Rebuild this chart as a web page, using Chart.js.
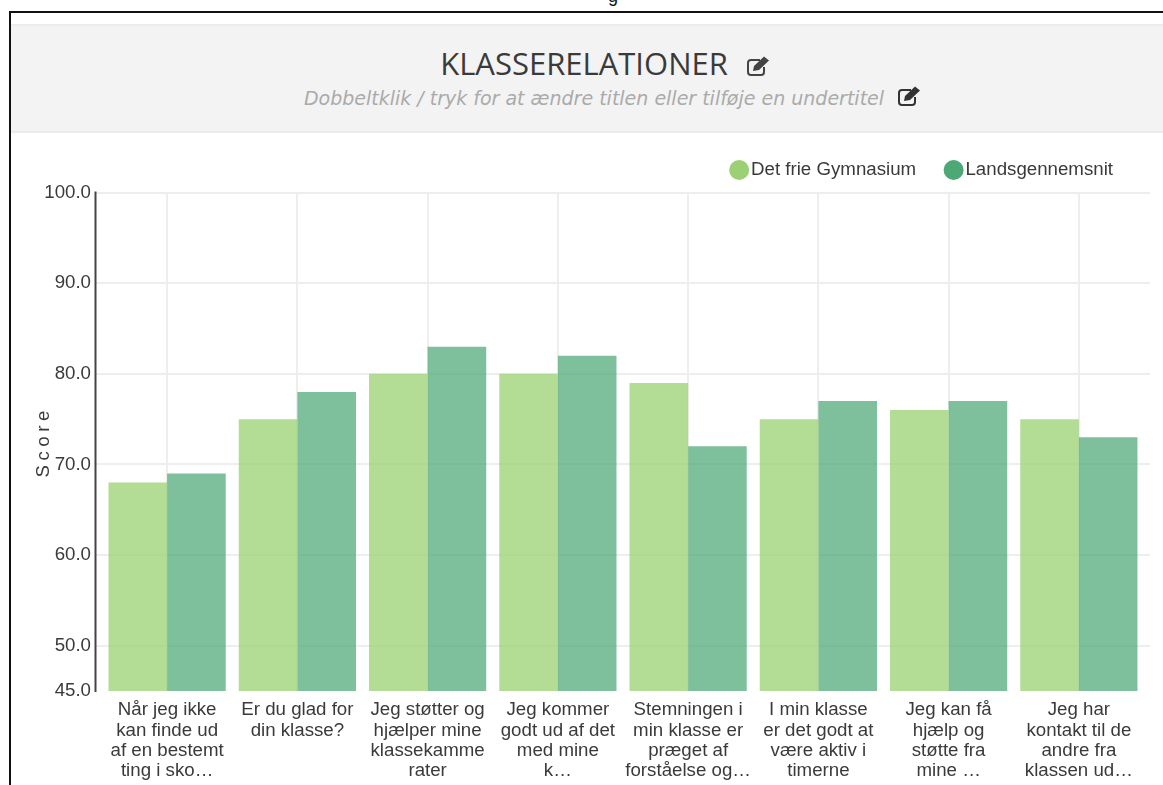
<!DOCTYPE html>
<html><head><meta charset="utf-8">
<script src="https://cdn.jsdelivr.net/npm/chart.js@4"></script>
<style>
html,body{margin:0;padding:0;background:#fff;width:1163px;height:785px;overflow:hidden}
#frame{position:absolute;left:9px;top:11px;width:1154px;height:774px;border-top:2px solid #111;border-left:2px solid #111;box-sizing:border-box}
#head{position:absolute;left:11px;top:24px;width:1152px;height:109px;background:#f3f3f3;border-top:2px solid #ececec;border-bottom:2px solid #ececec;box-sizing:border-box}
#t{position:absolute;top:46px;left:8px;width:1152px;text-align:center;font:31px "Open Sans";color:#3a3a3a;line-height:34px}
#s{position:absolute;top:87px;left:18px;width:1152px;text-align:center;font:italic 19px "DejaVu Sans";color:#aaa;line-height:22px}
#cap{position:absolute;left:608px;top:-14px;font:18px "Liberation Sans";color:#111;line-height:20px}
svg{position:absolute}
canvas{position:absolute;left:10px;top:133px}
</style></head><body>
<div id="cap">g</div>
<div id="frame"></div><div id="head"></div>
<div id="t">KLASSERELATIONER</div>
<div id="s">Dobbeltklik / tryk for at ændre titlen eller tilføje en undertitel</div>
<svg style="left:745px;top:55px" width="26" height="23" viewBox="0 0 26 23"><path d="M15 5H6a3 3 0 0 0-3 3v9a3 3 0 0 0 3 3h10a3 3 0 0 0 3-3v-5" fill="none" stroke="#444" stroke-width="2"/><path d="M8 16l1-5L19 1.5l5 4L14 15z" fill="#444"/></svg>
<svg style="left:896px;top:85px" width="26" height="23" viewBox="0 0 26 23"><path d="M15 5H6a3 3 0 0 0-3 3v9a3 3 0 0 0 3 3h10a3 3 0 0 0 3-3v-5" fill="none" stroke="#333" stroke-width="2"/><path d="M8 16l1-5L19 1.5l5 4L14 15z" fill="#333"/></svg>
<canvas id="c" width="1153" height="652" style="width:1153px;height:652px"></canvas>
<script>
const categories=[["Når jeg ikke","kan finde ud","af en bestemt","ting i sko…"],["Er du glad for","din klasse?"],["Jeg støtter og","hjælper mine","klassekamme","rater"],["Jeg kommer","godt ud af det","med mine","k…"],["Stemningen i","min klasse er","præget af","forståelse og…"],["I min klasse","er det godt at","være aktiv i","timerne"],["Jeg kan få","hjælp og","støtte fra","mine …"],["Jeg har","kontakt til de","andre fra","klassen ud…"]];
const schoolValues=[68,75,80,80,79,75,76,75];
const nationalValues=[69,78,83,82,72,77,77,73];
const yTicks=[45,50,60,70,80,90,100];
const seriesNames=["Det frie Gymnasium","Landsgennemsnit"];
const legendColors=["#9bd174","#4ca875"];
const barColors=["rgba(153,208,113,0.75)","rgba(76,168,117,0.72)"];
const gridColor="#eeeeee";
const txt="#3a3a3a";
const yGrid=c=>c.tick&&c.tick.value===yTicks[0]?"rgba(0,0,0,0)":gridColor;
const axisExtras={id:"axisExtras",
 afterLayout(ch){const l=ch.legend;l.left+=4;l.right+=4;l.top-=30;},
 beforeDatasetsDraw(ch){
 const y=ch.scales.y,a=ch.chartArea,g=ch.ctx;g.save();
 g.strokeStyle=gridColor;g.lineWidth=2;
 y.ticks.filter(t=>t.value!==yTicks[0]).forEach(t=>{const p=Math.round(y.getPixelForValue(t.value));g.beginPath();g.moveTo(a.right,p);g.lineTo(a.right+6,p);g.stroke();});
 g.restore();},
 afterDraw(ch){const a=ch.chartArea,g=ch.ctx;g.save();g.strokeStyle="#444";g.lineWidth=2;g.beginPath();g.moveTo(a.left-6.5,a.top-1);g.lineTo(a.left-6.5,a.bottom+1);g.stroke();g.restore();}};
new Chart(document.getElementById("c"),{type:"bar",
 data:{labels:categories,datasets:[
  {label:seriesNames[0],data:schoolValues,backgroundColor:barColors[0]},
  {label:seriesNames[1],data:nationalValues,backgroundColor:barColors[1]}]},
 plugins:[axisExtras],
 options:{responsive:false,animation:false,
  layout:{padding:{top:22.6,right:19,left:0,bottom:0}},
  datasets:{bar:{barPercentage:1,categoryPercentage:0.9}},
  plugins:{tooltip:{enabled:false},
   legend:{position:"top",align:"end",maxHeight:37,labels:{usePointStyle:true,pointStyle:"circle",boxWidth:5,boxHeight:14.14,padding:35,color:txt,font:{family:"Liberation Sans",size:18.7},
    generateLabels:()=>seriesNames.map((n,i)=>({text:n,fillStyle:legendColors[i],strokeStyle:legendColors[i],lineWidth:0,pointStyle:"circle",datasetIndex:i,fontColor:txt}))}}},
  scales:{
   x:{grid:{offset:false,color:gridColor,lineWidth:2,drawTicks:false},border:{display:false},
    afterFit(s){s.height=94;},
    ticks:{color:txt,maxRotation:0,autoSkip:false,padding:9,font:{family:"Liberation Sans",size:18.7,lineHeight:1.09}}},
   y:{min:45,max:100,grid:{color:yGrid,lineWidth:2,tickLength:7,tickColor:yGrid},border:{display:false},
    afterBuildTicks(s){s.ticks=yTicks.map(v=>({value:v}));},
    afterFit(s){s.width=92;
     if(!s._wrapped){s._wrapped=true;const o=s.drawTitle.bind(s);s.drawTitle=function(){const g=s.ctx;g.save();g.letterSpacing="4.5px";o();g.restore();};}},
    title:{display:true,text:"Score",color:txt,font:{family:"Liberation Sans",size:18.7},padding:{top:23,bottom:0}},
    ticks:{color:txt,padding:4,font:{family:"Liberation Sans",size:18.7},callback:v=>v.toFixed(1)}}
  }}});
</script></body></html>
